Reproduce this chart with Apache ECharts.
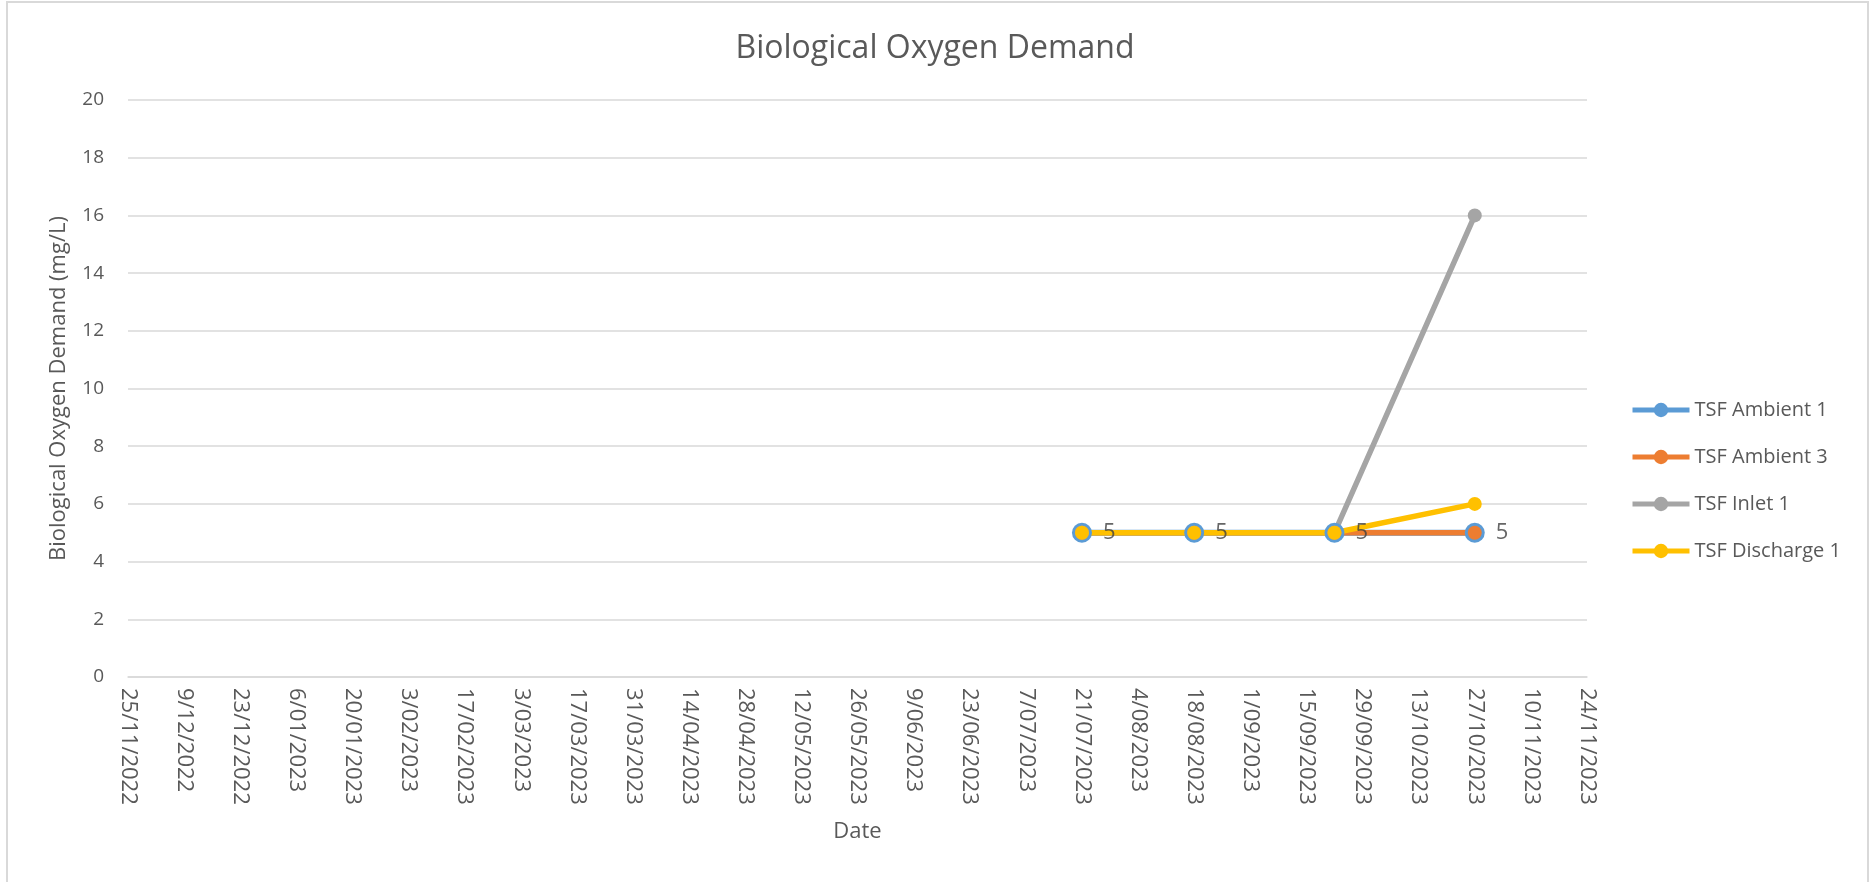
<!DOCTYPE html>
<html>
<head>
<meta charset="utf-8">
<title>Biological Oxygen Demand</title>
<script src="https://cdn.jsdelivr.net/npm/echarts@6/dist/echarts.min.js"></script>
<style>
    body {
        margin: 0;
        background: #fff;
    }

    #chart {
        width: 1870px;
        height: 882px;
    }

    .frame {
        position: absolute;
        left: 6px;
        top: 1px;
        width: 1863px;
        height: 900px;
        border: 2px solid #d9d9d9;
        box-sizing: border-box;
        pointer-events: none;
    }
</style>
</head>
<body>
<div id="chart"></div>
<div class="frame"></div>
<script>
// sample dates (d/mm/yyyy) and BOD values, mg/L
const sampleDates = ['21/07/2023', '18/08/2023', '22/09/2023', '27/10/2023'];
const ambient1 = [5, 5, 5, 5];
const ambient3 = [5, 5, 5, 5];
const inlet1 = [5, 5, 5, 16];
const discharge1 = [5, 5, 5, 6];

const seriesNames = ['TSF Ambient 1', 'TSF Ambient 3', 'TSF Inlet 1', 'TSF Discharge 1'];
const seriesColors = ['#5B9BD5', '#ED7D31', '#A5A5A5', '#FFC000'];

// date axis: first and last tick, major unit in days
const axisStart = '25/11/2022';
const axisEnd = '24/11/2023';
const tickDays = 14;

// value axis
const yMin = 0;
const yMax = 20;
const yStep = 2;

const DAY = 86400000;
const FONT = '"Open Sans", "Noto Sans", sans-serif';

function parseDate(s) {
    const [d, m, y] = s.split('/').map(Number);
    return Date.UTC(y, m - 1, d);
}

const startMs = parseDate(axisStart);

function dayOffset(s) {
    return Math.round((parseDate(s) - startMs) / DAY);
}

function formatDay(v) {
    const dt = new Date(startMs + v * DAY);
    const mm = String(dt.getUTCMonth() + 1).padStart(2, '0');
    return dt.getUTCDate() + '/' + mm + '/' + dt.getUTCFullYear();
}

function toPoints(values) {
    return sampleDates.map((d, i) => [dayOffset(d), values[i]]);
}

const chart = echarts.init(document.getElementById('chart'));

const valueSets = [ambient1, ambient3, inlet1, discharge1];

const lineSeries = valueSets.map((values, i) => ({
    name: seriesNames[i],
    type: 'line',
    data: toPoints(values),
    symbol: 'circle',
    symbolSize: i === 0 ? 20 : 14,
    itemStyle: {
        color: seriesColors[i]
    },
    lineStyle: {
        color: seriesColors[i],
        width: i === 0 ? 6 : 5.5
    },
    emphasis: { disabled: true },
    z: 2
}));

// data labels of TSF Ambient 1, kept above every line like Excel does
const labelSeries = {
    name: 'labels',
    type: 'scatter',
    data: toPoints(ambient1),
    symbol: 'circle',
    symbolSize: 20,
    itemStyle: {
        color: 'rgba(0,0,0,0)'
    },
    label: {
        show: true,
        position: 'right',
        distance: 11,
        color: '#404040',
        fontSize: 22,
        fontFamily: FONT,
        formatter: p => p.value[1]
    },
    silent: true,
    z: 5
};

const option = {
    animation: false,
    backgroundColor: '#fff',
    title: {
        text: 'Biological Oxygen Demand',
        left: 'center',
        top: 28,
        textStyle: {
            color: '#595959',
            fontSize: 32,
            fontWeight: 'normal',
            fontFamily: FONT
        }
    },
    legend: {
        data: seriesNames,
        orient: 'vertical',
        left: 1630,
        top: 400,
        padding: 0,
        itemWidth: 57,
        itemHeight: 18,
        itemGap: 27,
        lineStyle: {
            width: 5
        },
        textStyle: {
            color: '#595959',
            fontSize: 20,
            fontFamily: FONT
        }
    },
    grid: {
        left: 128,
        right: 283,
        top: 100,
        bottom: 205
    },
    xAxis: {
        type: 'value',
        min: 0,
        max: dayOffset(axisEnd),
        interval: tickDays,
        name: 'Date',
        nameLocation: 'middle',
        nameGap: 144,
        nameTextStyle: {
            color: '#595959',
            fontSize: 22,
            fontFamily: FONT
        },
        axisLine: {
            show: true,
            lineStyle: { color: '#d9d9d9', width: 1.5 }
        },
        axisTick: { show: false },
        splitLine: { show: false },
        axisLabel: {
            rotate: -90,
            margin: 11,
            showMinLabel: true,
            showMaxLabel: true,
            color: '#595959',
            fontSize: 22,
            fontFamily: FONT,
            formatter: formatDay
        }
    },
    yAxis: {
        type: 'value',
        min: yMin,
        max: yMax,
        interval: yStep,
        name: 'Biological Oxygen Demand (mg/L)',
        nameLocation: 'middle',
        nameGap: 58,
        nameTextStyle: {
            color: '#595959',
            fontSize: 22,
            fontFamily: FONT
        },
        axisLine: { show: false },
        axisTick: { show: false },
        splitLine: {
            lineStyle: { color: '#d9d9d9', width: 1.5 }
        },
        axisLabel: {
            margin: 24,
            color: '#595959',
            fontSize: 19,
            fontFamily: FONT
        }
    },
    series: [...lineSeries, labelSeries]
};

chart.setOption(option);
</script>
</body>
</html>
